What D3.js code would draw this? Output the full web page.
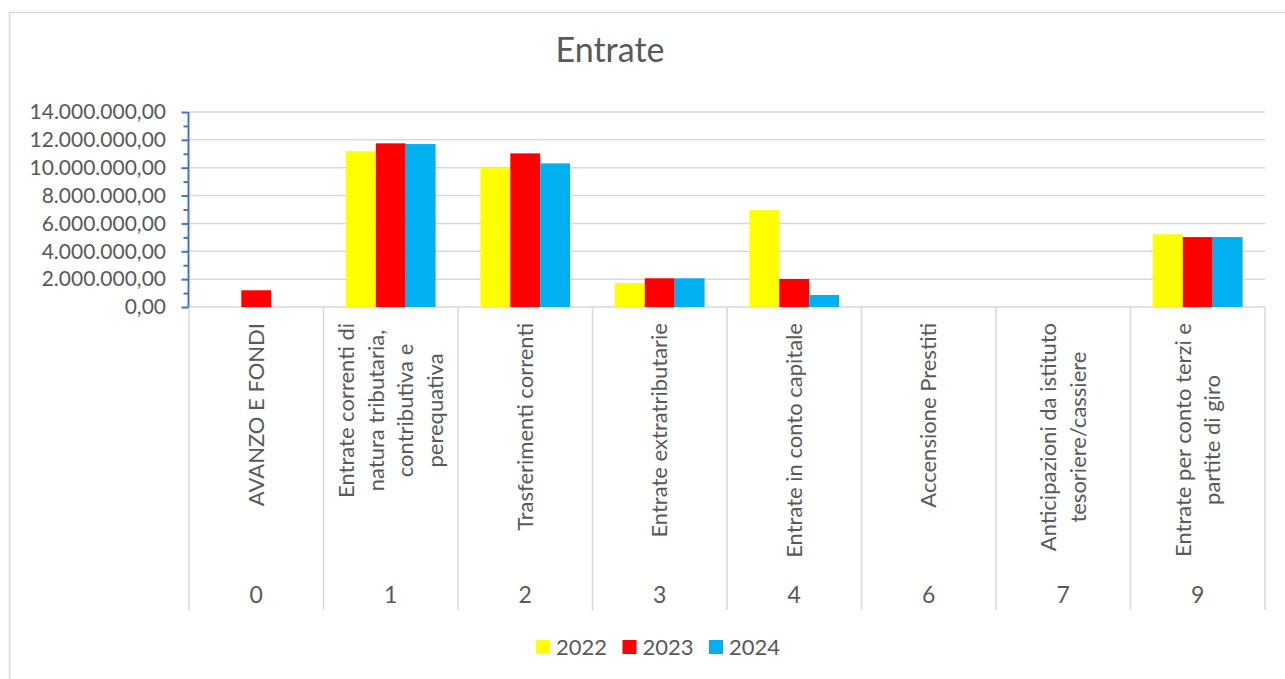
<!DOCTYPE html>
<html>
<head>
<meta charset="utf-8">
<script src="https://cdn.jsdelivr.net/npm/d3@7"></script>
<style>
  body { margin: 0; background: #fff; }
  text { font-family: Lato, "Open Sans", sans-serif; fill: #595959; }
</style>
</head>
<body>
<div id="chart"></div>
<script>
const width = 1285;
const height = 679;
const margin = { top: 112, right: 20, bottom: 372, left: 189 };

const categories = ['0', '1', '2', '3', '4', '6', '7', '9'];
const categoryLabels = [
  ['AVANZO E FONDI'],
  ['Entrate correnti di', 'natura tributaria,', 'contributiva e', 'perequativa'],
  ['Trasferimenti correnti'],
  ['Entrate extratributarie'],
  ['Entrate in conto capitale'],
  ['Accensione Prestiti'],
  ['Anticipazioni da istituto', 'tesoriere/cassiere'],
  ['Entrate per conto terzi e', 'partite di giro']
];
const years = ['2022', '2023', '2024'];
const values2022 = [0, 11180000, 10000000, 1720000, 6960000, 0, 0, 5220000];
const values2023 = [1200000, 11750000, 11030000, 2060000, 2010000, 0, 0, 5020000];
const values2024 = [0, 11700000, 10310000, 2060000, 860000, 0, 0, 5020000];
const yTicks = [0, 2000000, 4000000, 6000000, 8000000, 10000000, 12000000, 14000000];
const yearColors = ['#FFFF00', '#FF0000', '#00B0F0'];

const series = [values2022, values2023, values2024];
const rows = categories.map((c, i) => {
  const row = { cat: c };
  years.forEach((y, j) => row[y] = series[j][i]);
  return row;
});

const svg = d3.select('#chart')
  .append('svg')
  .attr('width', width)
  .attr('height', height);

// chart area border
svg.append('rect')
  .attr('x', 9.5)
  .attr('y', 12.5)
  .attr('width', 1300)
  .attr('height', 700)
  .attr('fill', '#fff')
  .attr('stroke', '#d9d9d9')
  .attr('stroke-width', 1.5);

svg.append('text')
  .text('Entrate')
  .attr('x', 610)
  .attr('y', 62)
  .attr('text-anchor', 'middle')
  .style('font-size', '34px');

const plotBottom = 307;
const x0 = d3.scaleBand()
  .domain(categories)
  .range([189, 1265]);

const x1 = d3.scaleBand()
  .domain(years)
  .range([0, x0.bandwidth()])
  .paddingOuter(0.75);

const y = d3.scaleLinear()
  .domain([0, 14000000])
  .range([plotBottom, 112]);

const color = d3.scaleOrdinal()
  .domain(years)
  .range(yearColors);

const it = d3.formatLocale({ decimal: ',', thousands: '.', grouping: [3], currency: ['€', ''] });
const fmt = it.format(',.2f');

// gridlines
svg.append('g')
  .selectAll('line')
  .data(yTicks.slice(1))
  .join('line')
  .attr('x1', 189)
  .attr('x2', 1265)
  .attr('y1', d => y(d))
  .attr('y2', d => y(d))
  .attr('stroke', '#d9d9d9')
  .attr('stroke-width', 1.5);

// category separators + x axis line
svg.append('line')
  .attr('x1', 189).attr('x2', 1265)
  .attr('y1', plotBottom).attr('y2', plotBottom)
  .attr('stroke', '#d9d9d9')
  .attr('stroke-width', 1.5);

const bounds = categories.map(c => x0(c)).concat([x0.range()[1]]);
svg.append('g')
  .selectAll('line')
  .data(bounds)
  .join('line')
  .attr('x1', d => d).attr('x2', d => d)
  .attr('y1', plotBottom).attr('y2', 610)
  .attr('stroke', '#d9d9d9')
  .attr('stroke-width', 1.5);

// bars
svg.append('g')
  .selectAll('g')
  .data(rows)
  .join('g')
  .attr('transform', d => `translate(${x0(d.cat)},0)`)
  .selectAll('rect')
  .data(d => years.map(yr => ({ year: yr, value: d[yr] })))
  .join('rect')
  .attr('x', d => x1(d.year))
  .attr('width', x1.bandwidth())
  .attr('y', d => y(d.value))
  .attr('height', d => plotBottom - y(d.value))
  .attr('fill', d => color(d.year));

// y axis (blue, with minor ticks)
const yAxisG = svg.append('g')
  .attr('transform', 'translate(188.5,0)')
  .call(d3.axisLeft(y).tickValues(d3.range(0, 14000001, 1000000)).tickSize(5).tickFormat(''));
yAxisG.select('.domain').attr('stroke', '#4472C4').attr('stroke-width', 2).attr('d', `M0,${y(14000000)}V${plotBottom}`);
yAxisG.selectAll('.tick line').attr('stroke', '#4472C4').attr('stroke-width', 2)
  .attr('x2', d => d % 2000000 === 0 ? -7 : -5);

svg.append('g')
  .selectAll('text')
  .data(yTicks)
  .join('text')
  .text(d => fmt(d))
  .attr('x', 166)
  .attr('y', d => y(d))
  .attr('dy', '0.35em')
  .attr('text-anchor', 'end')
  .style('font-size', '21px');

// category labels (rotated, top aligned)
const lineHeight = 29.5;
const labelG = svg.append('g')
  .selectAll('g')
  .data(categories)
  .join('g')
  .attr('transform', d => `translate(${x0(d) + x0.bandwidth() / 2},323) rotate(-90)`)
  .style('font-size', '22px');

labelG.each(function (d, i) {
  const g = d3.select(this);
  const lines = categoryLabels[i];
  const texts = g.selectAll('text')
    .data(lines)
    .join('text')
    .text(t => t)
    .attr('text-anchor', 'middle')
    .attr('y', (t, k) => (k - (lines.length - 1) / 2) * lineHeight)
    .attr('dy', '0.35em');
  let maxW = 0;
  texts.each(function () { maxW = Math.max(maxW, this.getComputedTextLength()); });
  texts.attr('x', -maxW / 2);
});

svg.append('g')
  .selectAll('text')
  .data(categories)
  .join('text')
  .text(d => d)
  .attr('x', d => x0(d) + x0.bandwidth() / 2)
  .attr('y', 603)
  .attr('text-anchor', 'middle')
  .style('font-size', '23px');

// legend
const legend = svg.append('g')
  .selectAll('g')
  .data(years)
  .join('g')
  .attr('transform', (d, i) => `translate(${536 + i * 86.5},640)`);

legend.append('rect')
  .attr('width', 14)
  .attr('height', 14)
  .attr('fill', d => color(d));

legend.append('text')
  .text(d => d)
  .attr('x', 20)
  .attr('y', 7)
  .attr('dy', '0.35em')
  .style('font-size', '22px');
</script>
</body>
</html>
